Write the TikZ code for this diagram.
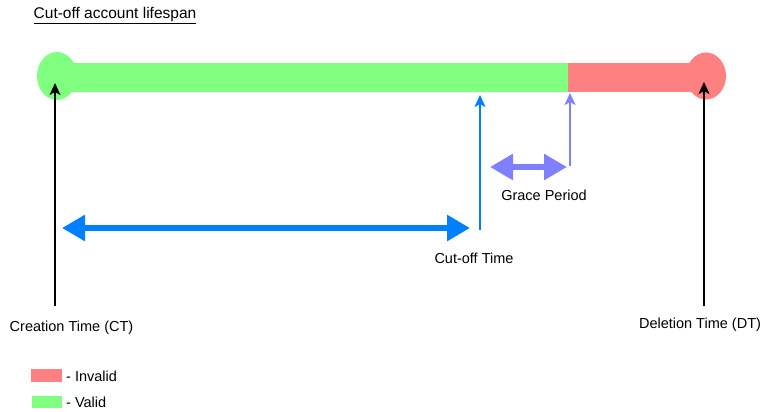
\documentclass[tikz,border=0pt]{standalone}
\usepackage{fontspec}
\setmainfont{Liberation Sans}
\usetikzlibrary{arrows.meta}
\definecolor{validgreen}{HTML}{80FF80}
\definecolor{invalidred}{HTML}{FF8080}
\definecolor{cutblue}{HTML}{0080FF}
\definecolor{gracepurple}{HTML}{8080FF}

\begin{document}
\begin{tikzpicture}[x=1pt,y=-1pt,
    lbl/.style={anchor=base,font=\fontsize{14.5}{17}\selectfont,inner sep=0pt},
    marker/.style={line width=2pt,-{Stealth[length=12pt,width=11pt,inset=3pt]}},
    span/.style={line width=6pt,{Triangle[length=23pt,width=25pt]}-{Triangle[length=23pt,width=25pt]}}]
    \useasboundingbox (0,0) rectangle (766,412);
    % title
    \node[lbl,font=\fontsize{15.5}{18}\selectfont] (title) at (115,19) {\underline{Cut-off account lifespan}};
    % lifespan bar
    \fill[validgreen] (57,63) rectangle (568,92);
    \fill[validgreen] (57,76) ellipse (20pt and 24pt);
    \fill[invalidred] (568,63) rectangle (706,92);
    \fill[invalidred] (706,76) ellipse (20pt and 23.5pt);
    % points on the bar
    \coordinate (ct) at (55,83);
    \coordinate (ctfoot) at (55,306);
    \coordinate (dt) at (704,82);
    \coordinate (dtfoot) at (704,306);
    \coordinate (cut) at (480,95);
    \coordinate (cutfoot) at (480,230);
    \coordinate (grace) at (570,93);
    \coordinate (gracefoot) at (570,166);
    \draw[marker] (ctfoot) -- (ct);
    \draw[marker] (dtfoot) -- (dt);
    \draw[marker,cutblue] (cutfoot) -- (cut);
    \draw[marker,gracepurple] (gracefoot) -- (grace);
    % spans
    \coordinate (cutL) at (62,228);
    \coordinate (cutR) at (470,228);
    \coordinate (graceL) at (490,167);
    \coordinate (graceR) at (567,167);
    \draw[span,cutblue] (cutL) -- (cutR);
    \draw[span,gracepurple] (graceL) -- (graceR);
    % labels
    \node[lbl] (gracelbl) at (544,200.5) {Grace Period};
    \node[lbl] (cutlbl) at (474,263) {Cut-off Time};
    \node[lbl] (ctlbl) at (71.5,331) {Creation Time (CT)};
    \node[lbl] (dtlbl) at (700,328) {Deletion Time (DT)};
    % legend
    \fill[invalidred] (31,369) rectangle (62,382);
    \fill[validgreen] (32,396) rectangle (62,408);
    \node[lbl,anchor=base west] (invalid) at (66,381) {- Invalid};
    \node[lbl,anchor=base west] (valid) at (66,407) {- Valid};
\end{tikzpicture}
\end{document}
